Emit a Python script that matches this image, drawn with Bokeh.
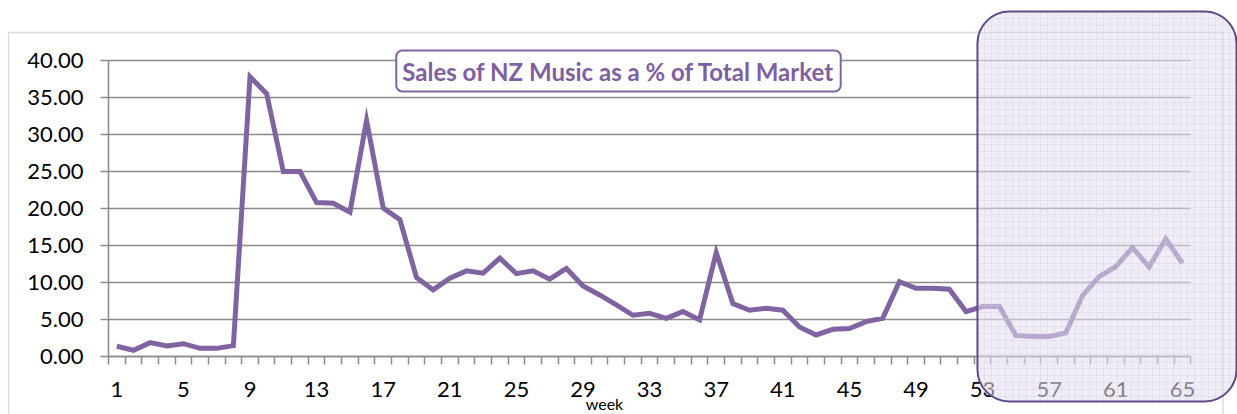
from bokeh.plotting import figure
from bokeh.models import ColumnDataSource, FixedTicker, NumeralTickFormatter, Label, BoxAnnotation, Grid
from bokeh.embed import file_html
from bokeh.resources import INLINE

# ---- data ----
weeks = list(range(1, 66))
nz_share = [1.38, 0.84, 1.87, 1.42, 1.73, 1.10, 1.10, 1.46, 37.80, 35.50,
            25.00, 25.00, 20.80, 20.70, 19.50, 31.90, 20.05, 18.50, 10.66, 9.00,
            10.58, 11.57, 11.26, 13.28, 11.20, 11.57, 10.45, 11.90, 9.54, 8.32,
            6.97, 5.57, 5.84, 5.16, 6.07, 4.94, 14.05, 7.15, 6.25, 6.52,
            6.25, 3.99, 2.91, 3.68, 3.77, 4.71, 5.16, 10.12, 9.22, 9.22,
            9.09, 6.07, 6.75, 6.80, 2.84, 2.70, 2.70, 3.20, 8.24, 10.80,
            12.16, 14.70, 12.10, 15.90, 12.60]
x_tick_labels = [1, 5, 9, 13, 17, 21, 25, 29, 33, 37, 41, 45, 49, 53, 57, 61, 65]
y_ticks = [0, 5, 10, 15, 20, 25, 30, 35, 40]
title_text = "Sales of NZ Music as a % of Total Market"
x_label = "week"

PURPLE = "#8064A2"
GRID = "#8a8a8a"
FONT = "Lato"

x_lo, x_hi = weeks[0] - 0.5, weeks[-1] + 0.5
y_lo, y_hi = y_ticks[0], y_ticks[-1]

src = ColumnDataSource(data=dict(week=weeks, share=nz_share))

# the frame covers the whole canvas; axes are pinned inside it
p = figure(width=1237, height=414, x_range=(-5.9865, 68.308), y_range=(-7.838, 48.108),
           output_backend="svg", toolbar_location=None, title=None,
           min_border=0)
p.outline_line_color = None
p.background_fill_color = "white"
p.border_fill_color = "white"

# outer chart border
p.add_layout(BoxAnnotation(left=-5.5, right=67.44, top=43.78, bottom=-9,
                           fill_color=None, line_color=GRID, line_width=1.5,
                           level="underlay"))

# grid
p.xgrid.visible = False
p.ygrid.ticker = FixedTicker(ticks=y_ticks)
p.ygrid.grid_line_color = GRID
p.ygrid.grid_line_width = 1.5
if "cross_bounds" in Grid.properties():
    p.ygrid.cross_bounds = (x_lo, x_hi)
else:
    p.ygrid.visible = False
    p.segment(x0=[x_lo] * len(y_ticks), x1=[x_hi] * len(y_ticks), y0=y_ticks, y1=y_ticks,
              line_color=GRID, line_width=1.5)

# x axis
minor = [w - 0.5 for w in weeks] + [weeks[-1] + 0.5]
xa = p.xaxis[0]
xa.fixed_location = 0
xa.bounds = (x_lo, x_hi)
xa.ticker = FixedTicker(ticks=x_tick_labels, minor_ticks=minor)
xa.major_tick_out = 0
xa.major_tick_in = 0
xa.minor_tick_out = 8
xa.minor_tick_in = 0
xa.minor_tick_line_color = GRID
xa.minor_tick_line_width = 1.5
xa.axis_line_color = GRID
xa.axis_line_width = 1.5
xa.major_label_standoff = 18
xa.major_label_text_font = FONT
xa.major_label_text_font_size = "22px"
xa.major_label_text_color = "black"

# y axis
ya = p.yaxis[0]
ya.fixed_location = x_lo
ya.bounds = (y_lo, y_hi)
ya.ticker = FixedTicker(ticks=y_ticks)
ya.formatter = NumeralTickFormatter(format="0.00")
ya.major_tick_out = 8
ya.major_tick_in = 0
ya.minor_tick_line_color = None
ya.major_tick_line_color = GRID
ya.major_tick_line_width = 1.5
ya.axis_line_color = GRID
ya.axis_line_width = 1.5
ya.major_label_standoff = 17
ya.major_label_text_font = FONT
ya.major_label_text_font_size = "22px"
ya.major_label_text_color = "black"

# series
p.line(x="week", y="share", source=src, line_color=PURPLE, line_width=5,
       line_join="miter")

# title box
p.add_layout(Label(x=31.13, y=38.58, text=title_text, text_align="center",
                   text_baseline="middle", text_font=FONT, text_font_style="bold",
                   text_font_size="24px", text_color="#7E60A2",
                   background_fill_color="white", border_line_color=PURPLE,
                   border_line_width=2, border_radius=6, padding=6))

# axis title "week"
p.add_layout(Label(x=30.29, y=-6.35, text=x_label, text_align="center",
                   text_baseline="alphabetic", text_font=FONT,
                   text_font_size="16px", text_color="black"))

# translucent rounded highlight over the last weeks
p.add_layout(BoxAnnotation(left=52.69, right=68.25, top=46.62, bottom=-6.08,
                           fill_color="#e4def0", fill_alpha=0.55,
                           line_color="#5f4a87", line_width=2, line_alpha=1.0,
                           border_radius=32,
                           hatch_pattern="+", hatch_color="#cfc6df",
                           hatch_alpha=0.3, hatch_scale=7, hatch_weight=1))

open("out.html", "w").write(file_html(p, INLINE))
